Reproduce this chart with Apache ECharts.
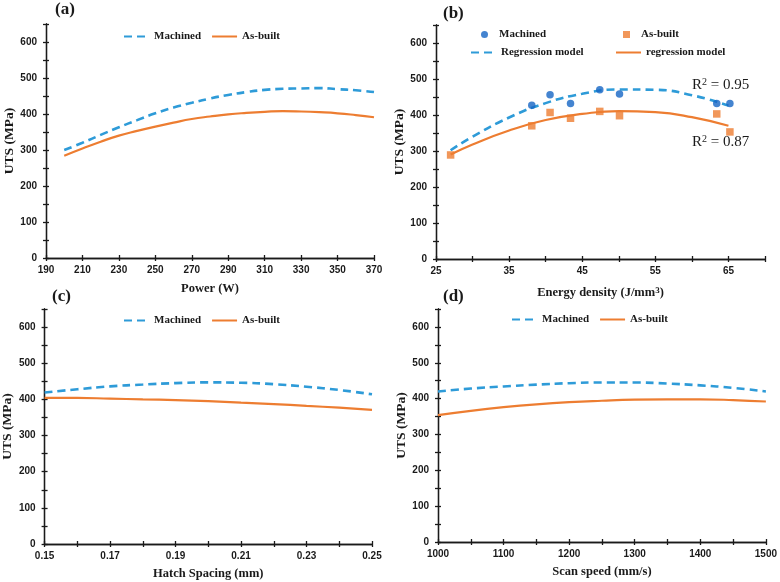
<!DOCTYPE html>
<html><head><meta charset="utf-8">
<script src="https://cdn.jsdelivr.net/npm/echarts@6/dist/echarts.min.js"></script>
<style>html,body{margin:0;padding:0;background:#fff}#c{width:780px;height:582px}</style>
</head><body><div id="c"></div>
<script>
// ---- data ----
const powerX = [200,210,220,230,240,250,260,270,280,290,300,310,320,330,340,350,360,370];
const powerMach = [300,320,342,363,383,402,418,431,443,453,461,467,470,471,472,469,466,461];
const powerAsb = [284,304,323,340,353,365,376,386,393,399,403,406,408,407,405,402,397,391];

const edMachX = [38.1,40.6,43.4,47.4,50.1,63.4,65.2];
const edMach = [427,456,432,470,458,432,432];
const edAsbX = [27,38.1,40.6,43.4,47.4,50.1,63.4,65.2];
const edAsb = [289,370,407,391,410,398,403,353];
const edFitX = [27,30,35,40,45,50,55,60,65];
const edFitMach = [302,340,393,433,459,471,470,455,426];
const edFitAsb = [290,318,357,386,403,411,408,394,370];

const hatchX = [0.15,0.16,0.17,0.18,0.19,0.20,0.21,0.22,0.23,0.24,0.25];
const hatchMach = [419,428,436,441,445,447,446,442,435,426,414];
const hatchAsb = [404,404,402,400,398,395,391,387,382,377,371];

const speedX = [1000,1050,1100,1150,1200,1250,1300,1350,1400,1450,1500];
const speedMach = [420,428,434,439,443,445,445,442,437,430,420];
const speedAsb = [354,366,376,384,390,394,397,398,398,396,392];

const yLabels = [0,100,200,300,400,500,600];
const r2Mach = '0.95';
const r2Asb = '0.87';

// ---- styles ----
const SERIF = '"Liberation Serif", "Times New Roman", serif';
const SANS = '"Liberation Sans", Arial, sans-serif';
const INK = '#1a1a1a';
const LBLUE = '#2E9BD8';
const DBLUE = '#1565C4';
const ORANGE = '#ED7D31';

const pairs = (xs, ys) => xs.map((x, i) => [x, ys[i]]);

const grids = [
  {left:46, top:24, width:328, height:234},
  {left:436, top:25, width:329, height:234},
  {left:43, top:309, width:329, height:235},
  {left:438, top:309, width:328, height:233}
];

function xAx(gi, min, max, interval, fmt, name, dup, gap) {
  return {type:'value', gridIndex:gi, min, max, interval, position:'bottom',
    name: dup ? '' : name, nameLocation:'middle', nameGap: gap || 23,
    nameTextStyle:{fontFamily:SERIF, fontWeight:'bold', fontSize:12.5, color:INK,
      rich:{s:{fontFamily:SERIF, fontWeight:'bold', fontSize:9, color:INK, verticalAlign:'top', lineHeight:9}}},
    axisLine:{show:true, onZero:false, lineStyle:{color:INK, width:1.3}},
    axisTick:{show:true, inside:dup, length:3, lineStyle:{color:INK, width:1.3}},
    axisLabel:{show:!dup, formatter:fmt, fontFamily:SANS, fontWeight:'bold', fontSize:10, color:INK, margin:7},
    splitLine:{show:false}};
}
function yAx(gi, dup) {
  return {type:'value', gridIndex:gi, min:0, max:650, interval:50, position:'left',
    name: dup ? '' : 'UTS (MPa)', nameLocation:'middle', nameGap:24, nameRotate:90,
    nameTextStyle:{fontFamily:SERIF, fontWeight:'bold', fontSize:13.5, color:INK},
    axisLine:{show:true, onZero:false, lineStyle:{color:INK, width:1.3}},
    axisTick:{show:true, inside:dup, length:3, lineStyle:{color:INK, width:1.3}},
    axisLabel:{show:!dup, fontFamily:SANS, fontWeight:'bold', fontSize:10, color:INK, margin:9,
      formatter: v => yLabels.indexOf(v) >= 0 ? String(v) : ''},
    splitLine:{show:false}};
}

const fmtA = v => String(v);
const fmtB = v => (Math.round(v - 25) % 10 === 0 && v < 70) ? String(v) : '';
const fmtC = v => (Math.round(v * 100) % 2 === 1) ? v.toFixed(2) : '';
const fmtD = v => (v % 100 === 0) ? String(v) : '';

const xMain = [
  xAx(0, 190, 370, 20, fmtA, 'Power (W)', false, 24),
  xAx(1, 25, 70, 5, fmtB, 'Energy density (J/mm{s|3})', false, 27),
  xAx(2, 0.15, 0.25, 0.01, fmtC, 'Hatch Spacing (mm)', false, 23),
  xAx(3, 1000, 1500, 50, fmtD, 'Scan speed (mm/s)', false, 23)
];
const xDup = [
  xAx(0, 190, 370, 20, fmtA, '', true),
  xAx(1, 25, 70, 5, fmtB, '', true),
  xAx(2, 0.15, 0.25, 0.01, fmtC, '', true),
  xAx(3, 1000, 1500, 50, fmtD, '', true)
];
const yMain = [0,1,2,3].map(i => yAx(i, false));
const yDup = [0,1,2,3].map(i => yAx(i, true));

function dashLine(name, gi, xs, ys) {
  return {name, type:'line', xAxisIndex:gi, yAxisIndex:gi, data:pairs(xs, ys), smooth:true,
    symbol:'none', showSymbol:false, z:3,
    lineStyle:{color:LBLUE, width:2.6, type:[8,5]}, itemStyle:{color:LBLUE}};
}
function solidLine(name, gi, xs, ys) {
  return {name, type:'line', xAxisIndex:gi, yAxisIndex:gi, data:pairs(xs, ys), smooth:true,
    symbol:'none', showSymbol:false, z:3,
    lineStyle:{color:ORANGE, width:2.2, type:'solid'}, itemStyle:{color:ORANGE}};
}

const series = [
  dashLine('a|Machined', 0, powerX, powerMach),
  solidLine('a|As-built', 0, powerX, powerAsb),
  dashLine('b|Regression model', 1, edFitX, edFitMach),
  solidLine('b|regression model', 1, edFitX, edFitAsb),
  {name:'b|Machined', type:'scatter', xAxisIndex:1, yAxisIndex:1, data:pairs(edMachX, edMach),
    symbol:'circle', symbolSize:7.5, itemStyle:{color:DBLUE}, z:5},
  {name:'b|As-built', type:'scatter', xAxisIndex:1, yAxisIndex:1, data:pairs(edAsbX, edAsb),
    symbol:'rect', symbolSize:7.5, itemStyle:{color:ORANGE}, z:6},
  dashLine('c|Machined', 2, hatchX, hatchMach),
  solidLine('c|As-built', 2, hatchX, hatchAsb),
  dashLine('d|Machined', 3, speedX, speedMach),
  solidLine('d|As-built', 3, speedX, speedAsb)
];

const legText = {fontFamily:SERIF, fontWeight:'bold', fontSize:11, color:INK};
const strip = n => n.split('|')[1];
const NOSYM = {color:'rgba(0,0,0,0)', borderColor:'rgba(0,0,0,0)', borderWidth:0};
function leg(data, left, top) {
  return {data, left, top, orient:'horizontal', itemGap:10, itemWidth:25, itemHeight:10,
    formatter:strip, textStyle:legText, selectedMode:false, padding:0, itemStyle:NOSYM};
}
function symLeg(data, left, top) {
  return {data, left, top, orient:'horizontal', itemGap:10, itemWidth:7, itemHeight:7,
    formatter:strip, textStyle:Object.assign({padding:[0,0,0,6]}, legText), selectedMode:false, padding:0};
}

const supRich = {
  r:{fontFamily:SERIF, fontSize:15, color:INK, lineHeight:16},
  s:{fontFamily:SERIF, fontSize:10, color:INK, lineHeight:10, verticalAlign:'top'}
};

const option = {
  backgroundColor:'#fff',
  animation:false,
  grid: grids,
  xAxis: xMain.concat(xDup),
  yAxis: yMain.concat(yDup),
  legend: [
    leg(['a|Machined','a|As-built'], 123, 31),
    symLeg(['b|Machined'], 481, 29),
    leg(['b|Regression model'], 470, 47),
    symLeg(['b|As-built'], 623, 29),
    leg(['b|regression model'], 615, 47),
    leg(['c|Machined','c|As-built'], 123, 315),
    leg(['d|Machined','d|As-built'], 511, 314)
  ],
  graphic: [
    {type:'text', left:55, top:1, style:{text:'(a)', font:'bold 17px ' + SERIF, fill:INK}},
    {type:'text', left:443, top:5, style:{text:'(b)', font:'bold 17px ' + SERIF, fill:INK}},
    {type:'text', left:52, top:288, style:{text:'(c)', font:'bold 17px ' + SERIF, fill:INK}},
    {type:'text', left:443, top:288, style:{text:'(d)', font:'bold 17px ' + SERIF, fill:INK}},
    {type:'text', left:692, top:77, style:{text:'{r|R}{s|2}{r| = ' + r2Mach + '}', rich:supRich, fill:INK}},
    {type:'text', left:692, top:134, style:{text:'{r|R}{s|2}{r| = ' + r2Asb + '}', rich:supRich, fill:INK}}
  ],
  series
};

const chart = echarts.init(document.getElementById('c'), null, {renderer:'canvas'});
chart.setOption(option);
</script>
</body></html>
